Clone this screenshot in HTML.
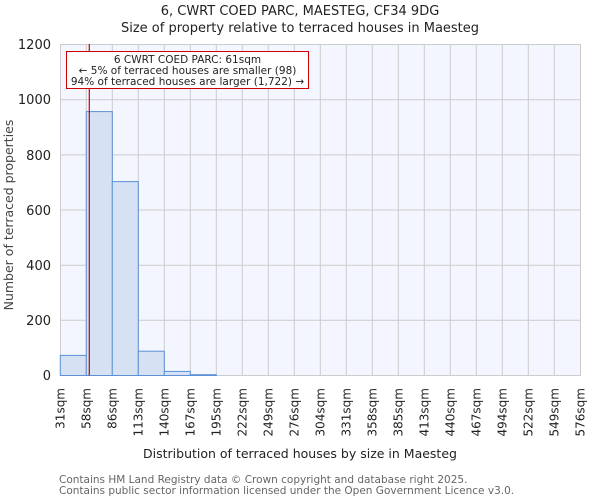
<!DOCTYPE html>
<html><head><style>body{margin:0;background:#fff}svg{display:block}text{font-family:"DejaVu Sans","Liberation Sans",sans-serif}</style></head>
<body>
<svg width="600" height="500" xmlns="http://www.w3.org/2000/svg">
<text x="300" y="15" font-size="13" text-anchor="middle" fill="#222">6, CWRT COED PARC, MAESTEG, CF34 9DG</text>
<text x="300" y="32" font-size="13" text-anchor="middle" fill="#222">Size of property relative to terraced houses in Maesteg</text>
<rect x="60.5" y="44.5" width="520" height="331" fill="#f3f6fe" stroke="#ccc"/>
<g stroke="#ccc" stroke-width="1">
<line x1="60" y1="99.7" x2="580" y2="99.7"/><line x1="60" y1="154.9" x2="580" y2="154.9"/><line x1="60" y1="210" x2="580" y2="210"/><line x1="60" y1="265.2" x2="580" y2="265.2"/><line x1="60" y1="320.3" x2="580" y2="320.3"/>
<line x1="86.3" y1="44" x2="86.3" y2="375"/><line x1="112.3" y1="44" x2="112.3" y2="375"/><line x1="138.3" y1="44" x2="138.3" y2="375"/><line x1="164.3" y1="44" x2="164.3" y2="375"/><line x1="190.3" y1="44" x2="190.3" y2="375"/><line x1="216.3" y1="44" x2="216.3" y2="375"/><line x1="242.3" y1="44" x2="242.3" y2="375"/><line x1="268.3" y1="44" x2="268.3" y2="375"/><line x1="294.3" y1="44" x2="294.3" y2="375"/><line x1="320.3" y1="44" x2="320.3" y2="375"/><line x1="346.3" y1="44" x2="346.3" y2="375"/><line x1="372.3" y1="44" x2="372.3" y2="375"/><line x1="398.3" y1="44" x2="398.3" y2="375"/><line x1="424.3" y1="44" x2="424.3" y2="375"/><line x1="450.3" y1="44" x2="450.3" y2="375"/><line x1="476.3" y1="44" x2="476.3" y2="375"/><line x1="502.3" y1="44" x2="502.3" y2="375"/><line x1="528.3" y1="44" x2="528.3" y2="375"/><line x1="554.3" y1="44" x2="554.3" y2="375"/>
</g>
<g fill="#d6e1f3" stroke="#5b8fd6" stroke-width="1">
<rect x="60.3" y="355.4" width="26" height="20.1"/>
<rect x="86.3" y="111.6" width="26" height="263.9"/>
<rect x="112.3" y="181.6" width="26" height="193.9"/>
<rect x="138.3" y="351.2" width="26" height="24.3"/>
<rect x="164.3" y="371.4" width="26" height="4.1"/>
<rect x="190.3" y="374.7" width="26" height="0.8"/>
</g>
<line x1="89.3" y1="44" x2="89.3" y2="375.5" stroke="#c00" stroke-width="1.2"/>
<rect x="66.5" y="51.5" width="242" height="37" fill="#fff" stroke="#c00"/>
<g font-size="10.5" text-anchor="middle" fill="#222">
<text x="187.5" y="63">6 CWRT COED PARC: 61sqm</text>
<text x="187.5" y="74">← 5% of terraced houses are smaller (98)</text>
<text x="187.5" y="85">94% of terraced houses are larger (1,722) →</text>
</g>
<g font-size="13" text-anchor="end" fill="#222">
<text x="51" y="380">0</text><text x="51" y="325">200</text><text x="51" y="270">400</text><text x="51" y="215">600</text><text x="51" y="160">800</text><text x="51" y="104">1000</text><text x="51" y="49">1200</text>
</g>
<g font-size="12" text-anchor="end" fill="#222">
<text transform="translate(64.5,388) rotate(-90)">31sqm</text>
<text transform="translate(90.5,388) rotate(-90)">58sqm</text>
<text transform="translate(116.5,388) rotate(-90)">86sqm</text>
<text transform="translate(142.5,388) rotate(-90)">113sqm</text>
<text transform="translate(168.5,388) rotate(-90)">140sqm</text>
<text transform="translate(194.5,388) rotate(-90)">167sqm</text>
<text transform="translate(220.5,388) rotate(-90)">195sqm</text>
<text transform="translate(246.5,388) rotate(-90)">222sqm</text>
<text transform="translate(272.5,388) rotate(-90)">249sqm</text>
<text transform="translate(298.5,388) rotate(-90)">276sqm</text>
<text transform="translate(324.5,388) rotate(-90)">304sqm</text>
<text transform="translate(350.5,388) rotate(-90)">331sqm</text>
<text transform="translate(376.5,388) rotate(-90)">358sqm</text>
<text transform="translate(402.5,388) rotate(-90)">385sqm</text>
<text transform="translate(428.5,388) rotate(-90)">413sqm</text>
<text transform="translate(454.5,388) rotate(-90)">440sqm</text>
<text transform="translate(480.5,388) rotate(-90)">467sqm</text>
<text transform="translate(506.5,388) rotate(-90)">494sqm</text>
<text transform="translate(532.5,388) rotate(-90)">522sqm</text>
<text transform="translate(558.5,388) rotate(-90)">549sqm</text>
<text transform="translate(584.5,388) rotate(-90)">576sqm</text>
</g>
<text x="300" y="458" font-size="12.5" text-anchor="middle" fill="#222">Distribution of terraced houses by size in Maesteg</text>
<text transform="translate(13,215) rotate(-90)" font-size="12.5" text-anchor="middle" fill="#444">Number of terraced properties</text>
<text x="59" y="483" font-size="10.5" fill="#666">Contains HM Land Registry data © Crown copyright and database right 2025.</text>
<text x="59" y="494" font-size="10.5" fill="#666">Contains public sector information licensed under the Open Government Licence v3.0.</text>
</svg>
</body></html>
